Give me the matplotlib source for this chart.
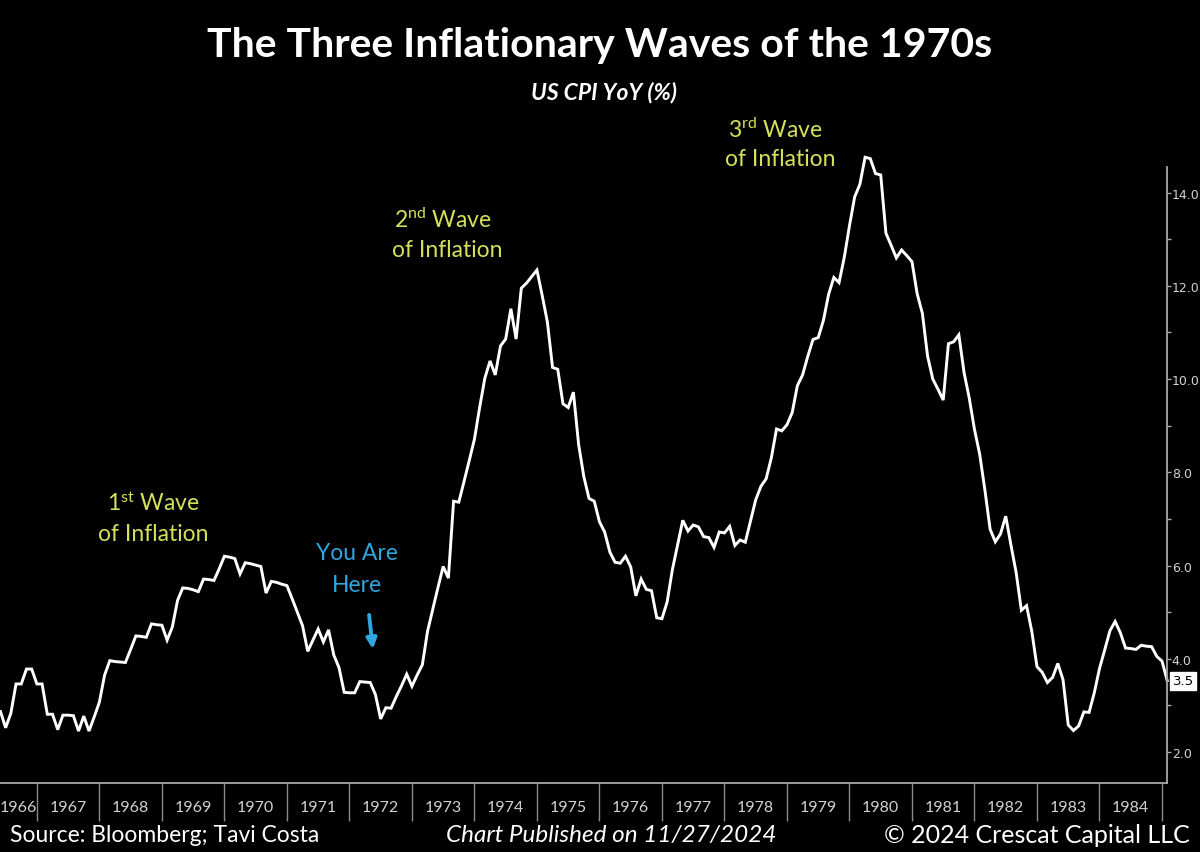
import matplotlib
matplotlib.use("Agg")
import matplotlib.pyplot as plt
import numpy as np

# US CPI YoY (%), monthly, one list per calendar year (Jan..Dec)
yoy_1966 = [1.92, 2.56, 2.56, 2.87, 2.87, 2.52, 2.83, 3.46, 3.46, 3.78, 3.78, 3.46]
yoy_1967 = [3.46, 2.81, 2.81, 2.48, 2.79, 2.79, 2.78, 2.45, 2.77, 2.45, 2.75, 3.07]
yoy_1968 = [3.65, 3.96, 3.94, 3.93, 3.92, 4.20, 4.49, 4.48, 4.46, 4.75, 4.73, 4.72]
yoy_1969 = [4.40, 4.68, 5.25, 5.52, 5.51, 5.48, 5.44, 5.71, 5.70, 5.68, 5.93, 6.20]
yoy_1970 = [6.18, 6.15, 5.82, 6.06, 6.04, 6.01, 5.98, 5.41, 5.66, 5.64, 5.60, 5.57]
yoy_1971 = [5.29, 5.00, 4.71, 4.16, 4.40, 4.64, 4.36, 4.62, 4.08, 3.81, 3.28, 3.27]
yoy_1972 = [3.27, 3.51, 3.50, 3.49, 3.23, 2.71, 2.95, 2.94, 3.19, 3.42, 3.67, 3.41]
yoy_1973 = [3.65, 3.87, 4.59, 5.06, 5.53, 5.98, 5.73, 7.38, 7.36, 7.80, 8.25, 8.71]
yoy_1974 = [9.39, 10.02, 10.39, 10.09, 10.71, 10.86, 11.51, 10.86, 11.95, 12.06, 12.20, 12.34]
yoy_1975 = [11.80, 11.23, 10.25, 10.21, 9.47, 9.39, 9.72, 8.60, 7.91, 7.44, 7.38, 6.94]
yoy_1976 = [6.72, 6.29, 6.07, 6.05, 6.20, 5.97, 5.35, 5.71, 5.49, 5.46, 4.88, 4.86]
yoy_1977 = [5.22, 5.91, 6.44, 6.97, 6.74, 6.87, 6.83, 6.62, 6.60, 6.39, 6.72, 6.70]
yoy_1978 = [6.84, 6.43, 6.55, 6.50, 6.96, 7.41, 7.70, 7.86, 8.31, 8.93, 8.89, 9.02]
yoy_1979 = [9.28, 9.86, 10.09, 10.49, 10.85, 10.89, 11.26, 11.82, 12.18, 12.07, 12.61, 13.29]
yoy_1980 = [13.91, 14.18, 14.76, 14.73, 14.41, 14.38, 13.13, 12.87, 12.60, 12.77, 12.65, 12.52]
yoy_1981 = [11.83, 11.41, 10.49, 10.00, 9.78, 9.55, 10.76, 10.80, 10.95, 10.14, 9.59, 8.92]
yoy_1982 = [8.39, 7.62, 6.78, 6.51, 6.68, 7.06, 6.44, 5.85, 5.04, 5.14, 4.59, 3.83]
yoy_1983 = [3.71, 3.49, 3.60, 3.90, 3.55, 2.58, 2.46, 2.56, 2.86, 2.85, 3.27, 3.79]
yoy_1984 = [4.19, 4.60, 4.80, 4.56, 4.23, 4.22, 4.20, 4.29, 4.27, 4.26, 4.05, 3.95]
yoy_1985 = [3.53]

years = list(range(1966, 1986))
yearly = [yoy_1966, yoy_1967, yoy_1968, yoy_1969, yoy_1970, yoy_1971, yoy_1972,
          yoy_1973, yoy_1974, yoy_1975, yoy_1976, yoy_1977, yoy_1978, yoy_1979,
          yoy_1980, yoy_1981, yoy_1982, yoy_1983, yoy_1984, yoy_1985]

t = []
cpi = []
for yr, vals in zip(years, yearly):
    for m, v in enumerate(vals):
        t.append(yr + (m + 1) / 12)
        cpi.append(v)
t = np.array(t)
cpi = np.array(cpi)

YELLOW = "#d5e05a"
BLUE = "#2ea6df"
GRID = "#a8a8a8"
TXT = "#d2d2d2"

plt.rcParams["mathtext.fontset"] = "custom"
plt.rcParams["mathtext.rm"] = "Lato"
plt.rcParams["mathtext.it"] = "Lato:italic"

fig = plt.figure(figsize=(12, 8.53), dpi=100, facecolor="black")
ax = fig.add_axes([0, 0.0809, 0.9725, 0.7784], facecolor="black")

ax.plot(t, cpi, color="white", lw=2.1, solid_joinstyle="miter", clip_on=False)

xmin, xmax = 1966.41, 1985.08
ax.set_xlim(xmin, xmax)
ax.set_ylim(1.335, 15.58)

for s in ["top", "left"]:
    ax.spines[s].set_visible(False)
ax.spines["right"].set_color(GRID)
ax.spines["right"].set_linewidth(1.3)
ax.spines["right"].set_bounds(1.335, 14.55)
ax.spines["bottom"].set_color(GRID)
ax.spines["bottom"].set_linewidth(1.3)

# y axis on the right
ax.yaxis.tick_right()
ax.set_yticks(np.arange(2, 15, 2))
ax.set_yticklabels([f"{v:.1f}" for v in np.arange(2, 15, 2)])
ax.set_yticks(np.arange(3, 14, 2), minor=True)
ax.tick_params(axis="y", which="major", direction="out", length=3, width=1,
               color=GRID, labelcolor=TXT, labelsize=9, pad=0.5)
ax.tick_params(axis="y", which="minor", direction="out", length=3, width=1,
               color=GRID)

# x axis: year separators and centred year labels
ax.set_xticks(np.arange(1967, 1986))
ax.set_xticklabels([])
centers = []
labels = []
for yr in range(1966, 1986):
    a, b = max(yr, xmin), min(yr + 1, xmax)
    if b - a > 0.3:
        centers.append((a + b) / 2)
        labels.append(str(yr))
ax.set_xticks(centers, minor=True)
ax.set_xticklabels(labels, minor=True, family="Lato")
ax.tick_params(axis="x", which="major", direction="out", length=27, width=1,
               color="#8a8a8a")
ax.tick_params(axis="x", which="minor", length=0, pad=12, labelcolor=TXT,
               labelsize=11.5)

# last value tag
ax.annotate(f"{cpi[-1]:.1f}", xy=(1, cpi[-1]), xycoords=("axes fraction", "data"),
            xytext=(4, 0), textcoords="offset points", ha="left", va="center",
            fontsize=9.5, color="black",
            bbox=dict(boxstyle="square,pad=0.18", fc="white", ec="white"),
            annotation_clip=False)

# wave annotations
afont = dict(family="Lato", fontsize=16.5, ha="center", va="center")
ax.text(1968.86, 7.36, r"1$^{\mathrm{st}}$ Wave", color=YELLOW, **afont)
ax.text(1968.86, 6.68, "of Inflation", color=YELLOW, **afont)
ax.text(1973.50, 13.44, r"2$^{\mathrm{nd}}$ Wave", color=YELLOW, **afont)
ax.text(1973.56, 12.77, "of Inflation", color=YELLOW, **afont)
ax.text(1978.82, 15.37, r"3$^{\mathrm{rd}}$ Wave", color=YELLOW, **afont)
ax.text(1978.90, 14.73, "of Inflation", color=YELLOW, **afont)
ax.text(1972.12, 6.29, "You Are", color=BLUE, **afont)
ax.text(1972.12, 5.60, "Here", color=BLUE, **afont)
ax.annotate("", xy=(1972.38, 4.15), xytext=(1972.31, 5.0),
            arrowprops=dict(arrowstyle="-|>,head_length=0.6,head_width=0.3",
                            color=BLUE, lw=2.8))

# titles and footer
fig.text(0.5, 1 - 45 / 853, "The Three Inflationary Waves of the 1970s",
         family="Lato", weight="bold", fontsize=29.5, color="white",
         ha="center", va="center")
fig.text(0.503, 1 - 93 / 853, "US CPI YoY (%)", family="Lato", weight="bold",
         style="italic", fontsize=16.5, color="white", ha="center", va="center")
fig.text(10 / 1200, 1 - 836 / 853, "Source: Bloomberg; Tavi Costa",
         family="Lato", fontsize=16.5, color="white", ha="left", va="center")
fig.text(611 / 1200, 1 - 836 / 853, "Chart Published on 11/27/2024",
         family="Lato", style="italic", fontsize=17.5, color="white",
         ha="center", va="center")
fig.text(1190 / 1200, 1 - 836 / 853, "\u00a9 2024 Crescat Capital LLC",
         family="Lato", fontsize=18, color="white", ha="right", va="center")

fig.savefig("out.png", dpi=100, facecolor="black")
